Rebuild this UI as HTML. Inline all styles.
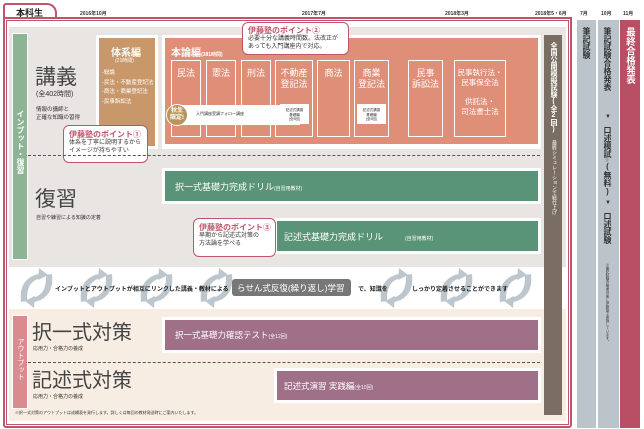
<!DOCTYPE html>
<html><head><meta charset="utf-8"><style>
*{margin:0;padding:0;box-sizing:border-box}
body{width:644px;height:429px;background:#fff;position:relative;overflow:hidden;font-family:"Liberation Sans","Noto Sans CJK JP",sans-serif;color:#333}
.a{position:absolute;white-space:nowrap}
.v{writing-mode:vertical-rl;text-orientation:upright}
.w{color:#fff}
.big{font-size:21px;line-height:22px;color:#444}
.sub{border:1.5px solid #fff;position:absolute}
.sub span{display:block;text-align:center;color:#fff;font-size:9px;line-height:11px;margin-top:7px;white-space:nowrap}
.call{position:absolute;background:#fff;border:1.5px solid #c0546a;border-radius:6px;font-size:6px;line-height:7.5px;color:#333;padding:3px 5px;white-space:nowrap}
.call b{color:#c0546a;font-size:8px;display:block;line-height:11px}
.dash{position:absolute;height:0;border-top:1.2px dashed #555}
</style></head><body>
<div class="a" style="left:3px;top:3px;width:54px;height:16px;border:2px solid #c0546a;border-bottom:none;border-radius:3px 10px 0 0;background:#fff"></div>
<div class="a" style="left:16px;top:6px;font-size:9px;font-weight:bold;color:#222">本科生</div>
<div class="a" style="left:80px;top:10px;font-size:5px;font-weight:bold">2016年10月</div>
<div class="a" style="left:302px;top:10px;font-size:5px;font-weight:bold">2017年7月</div>
<div class="a" style="left:445px;top:10px;font-size:5px;font-weight:bold">2018年3月</div>
<div class="a" style="left:535px;top:10px;font-size:5px;font-weight:bold">2018年5・6月</div>
<div class="a" style="left:580px;top:10px;font-size:5px;font-weight:bold">7月</div>
<div class="a" style="left:601px;top:10px;font-size:5px;font-weight:bold">10月</div>
<div class="a" style="left:623px;top:10px;font-size:5px;font-weight:bold">11月</div>
<div class="a" style="left:3px;top:17px;width:569px;height:411px;border:2px solid #c0546a;border-radius:0 0 3px 3px"></div>
<div class="a" style="left:6px;top:20px;width:563px;height:405px;border:1px solid #c0546a"></div>
<div class="a" style="left:9px;top:27px;width:557px;height:240px;background:#e8e5e3"></div>
<div class="a" style="left:9px;top:309px;width:557px;height:112px;background:#f7ede2"></div>
<div class="a" style="left:12px;top:33px;width:16px;height:227px;background:#8db595;border:1.5px solid #fff"></div>
<div class="a v w" style="left:15px;top:110px;font-size:8px;font-weight:bold">インプット・復習</div>
<div class="a" style="left:12px;top:315px;width:16px;height:94px;background:#d98c90;border:1.5px solid #fff"></div>
<div class="a v w" style="left:15px;top:338px;font-size:7px">アウトプット</div>
<div class="a big" style="left:35px;top:67px">講義</div>
<div class="a" style="left:36px;top:89px;font-size:7px">(全402時間)</div>
<div class="a" style="left:36px;top:106px;font-size:5.5px;line-height:8px">情報の講師と<br>正確な知識の習得</div>
<div class="a" style="left:96px;top:35px;width:62px;height:114px;background:#fff"></div>
<div class="a" style="left:99px;top:38px;width:56px;height:108px;background:#c9986a"></div>
<div class="a w" style="left:111px;top:44px;font-size:10px;font-weight:bold">体系編</div>
<div class="a w" style="left:115px;top:57px;font-size:5px">(21時間)</div>
<div class="a w" style="left:102px;top:69px;font-size:5.5px;line-height:9.5px">-総論<br>-民法・不動産登記法<br>-商法・商業登記法<br>-民事訴訟法</div>
<div class="a" style="left:162px;top:35px;width:379px;height:114px;background:#fff"></div>
<div class="a" style="left:165px;top:38px;width:373px;height:106px;background:#df8f78"></div>
<div class="a w" style="left:171px;top:44px;font-size:10px;font-weight:bold">本論編<span style="font-size:5px">(381時間)</span></div>
<div class="sub" style="left:171px;top:60px;width:30px;height:77px"><span>民法</span></div>
<div class="sub" style="left:206px;top:60px;width:30px;height:77px"><span>憲法</span></div>
<div class="sub" style="left:241px;top:60px;width:30px;height:77px"><span>刑法</span></div>
<div class="sub" style="left:275px;top:60px;width:38px;height:77px"><span>不動産<br>登記法</span></div>
<div class="sub" style="left:317px;top:60px;width:33px;height:77px"><span>商法</span></div>
<div class="sub" style="left:354px;top:60px;width:35px;height:77px"><span>商業<br>登記法</span></div>
<div class="sub" style="left:408px;top:60px;width:35px;height:77px"><span>民事<br>訴訟法</span></div>
<div class="sub" style="left:454px;top:60px;width:52px;height:77px"><span style="font-size:7.5px;line-height:10px">民事執行法・<br>民事保全法</span><span style="margin-top:9px;font-size:7.5px;line-height:10px">供託法・<br>司法書士法</span></div>
<div class="a" style="left:172px;top:105px;width:128px;height:20px;background:#fff"></div>
<div class="a" style="left:196px;top:111px;font-size:4px">入門講座受講フォロー講座</div>
<div class="a" style="left:166px;top:104px;width:22px;height:22px;border-radius:50%;background:#b8955a;border:1.5px solid #fff;color:#fff;font-size:6px;line-height:7px;text-align:center;padding-top:3px;font-weight:bold">秋生<br>限定!</div>
<div class="a" style="left:280px;top:104px;width:29px;height:20px;background:#fff;font-size:3.5px;line-height:4.5px;text-align:center;padding-top:4px">記述式講習<br>基礎編<br>(全5回)</div>
<div class="a" style="left:357px;top:104px;width:29px;height:20px;background:#fff;font-size:3.5px;line-height:4.5px;text-align:center;padding-top:4px">記述式講習<br>基礎編<br>(全5回)</div>
<div class="call" style="left:63px;top:125px;width:85px;height:38px"><b>伊藤塾のポイント①</b>体系を丁寧に説明するから<br>イメージが持ちやすい</div>
<div class="call" style="left:242px;top:22px;width:107px;height:33px;padding-top:2px"><b>伊藤塾のポイント②</b>必要十分な講義時間数。法改正が<br>あっても入門講座内で対応。</div>
<div class="dash" style="left:28px;top:155px;width:512px"></div>
<div class="a big" style="left:35px;top:189px">復習</div>
<div class="a" style="left:36px;top:214px;font-size:5px">自習や練習による知識の定着</div>
<div class="a" style="left:162px;top:168px;width:379px;height:36px;background:#fff"></div>
<div class="a w" style="left:165px;top:171px;width:373px;height:30px;background:#5a9478;font-size:9px;padding:9px 0 0 10px">択一式基礎力完成ドリル<span style="font-size:5px">(自習用教材)</span></div>
<div class="a" style="left:274px;top:218px;width:267px;height:36px;background:#fff"></div>
<div class="a w" style="left:277px;top:221px;width:261px;height:30px;background:#5a9478;font-size:9px;padding:9px 0 0 7px">記述式基礎力完成ドリル<span style="font-size:5px;margin-left:22px">(自習用教材)</span></div>
<div class="call" style="left:193px;top:218px;width:83px;height:39px"><b>伊藤塾のポイント③</b>早期から記述式対策の<br>方法論を学べる</div>
<svg class="a" style="left:0;top:265px" width="560" height="45">
<defs><g id="ar" fill="#bcc6cc"><path d="M3 34 Q0 8 26 5 L24 10 Q8 12 9 33 Z"/><path d="M21 0 L30 7 L20 12 Z"/><path d="M34 6 Q37 32 11 35 L13 30 Q29 28 28 7 Z"/><path d="M16 40 L7 33 L17 28 Z"/></g></defs>
<use href="#ar" x="18" y="3"/><use href="#ar" x="78" y="3"/><use href="#ar" x="138" y="3"/><use href="#ar" x="198" y="3"/>
<use href="#ar" x="378" y="3"/><use href="#ar" x="438" y="3"/><use href="#ar" x="497" y="3"/>
</svg>
<div class="a" style="left:55px;top:284px;font-size:6px;font-weight:bold;color:#222">インプットとアウトプットが相互にリンクした講義・教材による</div>
<div class="a w" style="left:232px;top:279px;width:119px;height:17px;background:#777;border-radius:3px;font-size:8.5px;padding:3px 0 0 5px">らせん式反復(繰り返し)学習</div>
<div class="a" style="left:358px;top:284px;font-size:6px;font-weight:bold;color:#222">で、知識を</div>
<div class="a" style="left:412px;top:284px;font-size:6px;font-weight:bold;color:#222">しっかり定着させることができます</div>
<div class="a big" style="left:32px;top:322px;font-size:20px">択一式対策</div>
<div class="a" style="left:33px;top:345px;font-size:5px">応用力・合格力の養成</div>
<div class="a" style="left:162px;top:317px;width:379px;height:36px;background:#fff"></div>
<div class="a w" style="left:165px;top:320px;width:373px;height:30px;background:#a07088;font-size:8.5px;padding:9px 0 0 10px">択一式基礎力確認テスト<span style="font-size:5px">(全12回)</span></div>
<div class="dash" style="left:28px;top:362px;width:512px"></div>
<div class="a big" style="left:32px;top:370px;font-size:20px">記述式対策</div>
<div class="a" style="left:33px;top:393px;font-size:5px">応用力・合格力の養成</div>
<div class="a" style="left:274px;top:368px;width:267px;height:35px;background:#fff"></div>
<div class="a w" style="left:277px;top:371px;width:261px;height:29px;background:#a07088;font-size:8.5px;padding:9px 0 0 7px">記述式演習 実践編<span style="font-size:5px">(全10回)</span></div>
<div class="a" style="left:15px;top:410px;font-size:4px">※択一式対策のアウトプットは成績表を発行します。詳しくは毎回の教材発送時にご案内いたします。</div>
<div class="a" style="left:544px;top:35px;width:18px;height:380px;background:#7a6e62"></div>
<div class="a v w" style="left:549px;top:42px;font-size:7px;line-height:9px;font-weight:bold">全国公開模擬試験(全2回)</div>
<div class="a v w" style="left:550px;top:140px;font-size:5px;line-height:7px">最終シミュレーションで総仕上げ</div>
<div class="a" style="left:577px;top:20px;width:19px;height:408px;background:#bcc4cb"></div>
<div class="a v" style="left:582px;top:27px;font-size:8px;font-weight:bold;color:#333;line-height:9px">筆記試験</div>
<div class="a" style="left:598px;top:20px;width:21px;height:408px;background:#bcc4cb"></div>
<div class="a v" style="left:603px;top:27px;font-size:8px;font-weight:bold;color:#333;line-height:9px">筆記試験合格発表</div>
<div class="a" style="left:605px;top:114px;font-size:6px;color:#333">▼</div>
<div class="a v" style="left:603px;top:126px;font-size:8px;font-weight:bold;color:#333;line-height:9px">口述模試<span style="font-size:4px">※</span>(無料)</div>
<div class="a" style="left:605px;top:200px;font-size:6px;color:#333">▼</div>
<div class="a v" style="left:603px;top:212px;font-size:8px;font-weight:bold;color:#333;line-height:9px">口述試験</div>
<div class="a v" style="left:606px;top:263px;font-size:3.5px;color:#333">※筆記試験合格者対象に伊藤塾で実施しています。</div>
<div class="a" style="left:620px;top:20px;width:20px;height:408px;background:#b84f65"></div>
<div class="a v w" style="left:624px;top:27px;font-size:9.5px;font-weight:bold;line-height:11px">最終合格発表</div>
</body></html>
